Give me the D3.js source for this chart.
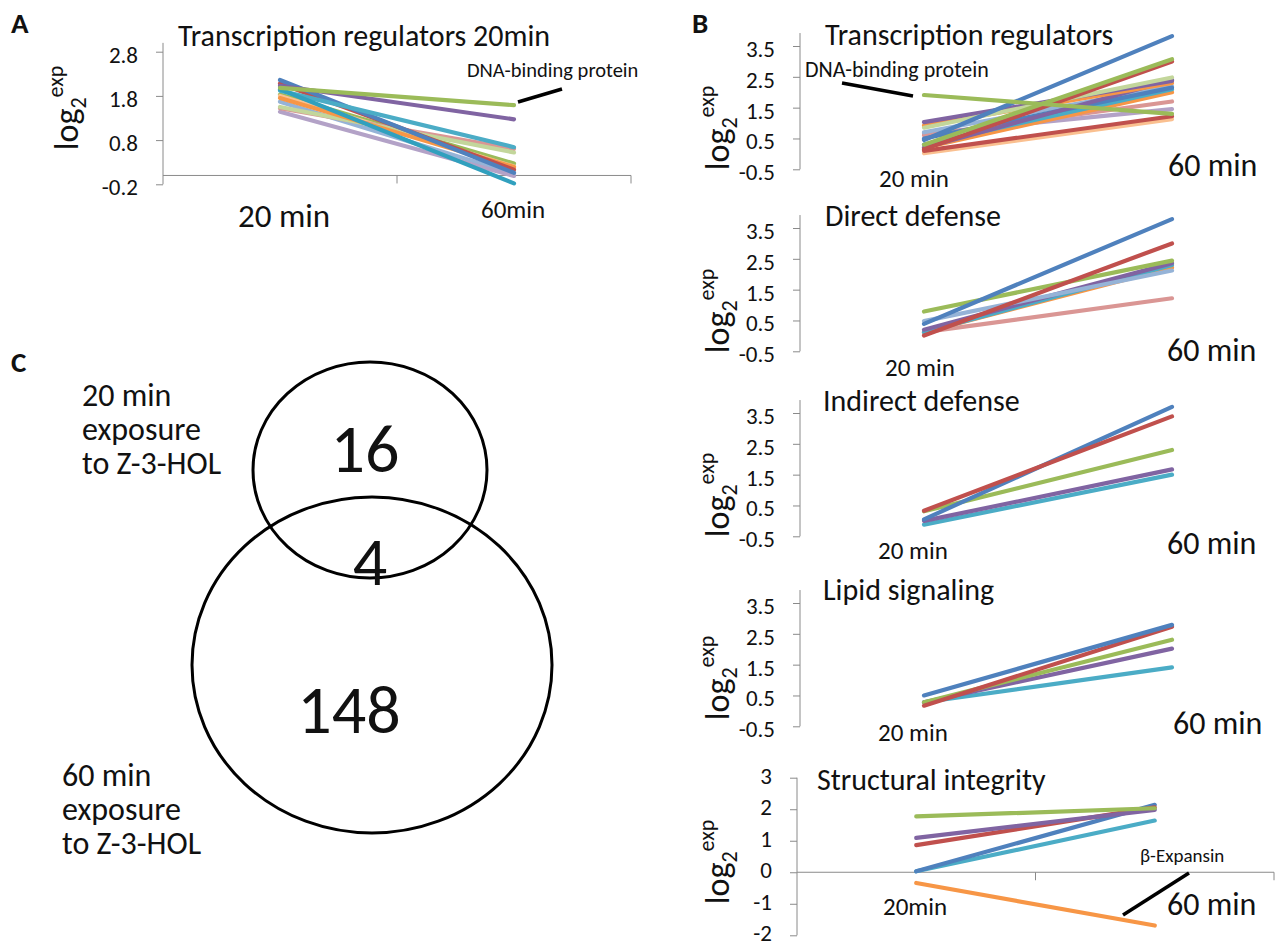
<!DOCTYPE html>
<html>
<head>
<meta charset="utf-8">
<script src="https://cdn.jsdelivr.net/npm/d3@7"></script>
<style>
  html, body { margin: 0; padding: 0; background: #fff; }
  svg { display: block; }
  text { font-family: 'Carlito', 'Lato', sans-serif; fill: #111; }
</style>
</head>
<body>
<svg id="fig" width="1280" height="947"></svg>
<script>
// ---- data ---------------------------------------------------------------
const timepoints = ["20 min", "60 min"];

const palette = {
  blue: "#4F81BD", red: "#C0504D", green: "#9BBB59", purple: "#8064A2",
  teal: "#4BACC6", orange: "#F79646", lightBlue: "#95B3D7", pink: "#DA9694",
  lightGreen: "#C3D69B", lightPurple: "#B3A2C7", peach: "#FAC090", darkTeal: "#31A0BE"
};

// A: transcription regulators induced at 20 min
const regA20 = [1.83, 1.80, 1.67, 1.44, 1.52, 1.55, 1.75, 2.08, 2.16, 1.92, 1.95, 2.03, 1.98];
const regA60 = [0.27, 0.20, 0.04, -0.01, 0.60, 0.52, 0.19, 0.13, 0.06, 0.64, -0.18, 1.27, 1.59];
const regAColors = ["green", "peach", "lightBlue", "lightPurple", "pink", "lightGreen", "orange",
                    "red", "blue", "teal", "darkTeal", "purple", "green"];

// B: transcription regulators induced at 60 min
const regB20 = [0.02, 0.10, 0.65, 0.60, 0.20, 0.30, 0.70, 0.50, 0.20, 0.92, 1.03, 0.85, 0.15, 0.30, 0.45, 1.91];
const regB60 = [1.13, 1.22, 1.45, 1.70, 2.00, 2.10, 2.20, 2.15, 2.40, 2.30, 2.37, 2.48, 3.00, 3.07, 3.82, 1.30];
const regBColors = ["peach", "red", "lightPurple", "pink", "orange", "teal", "lightBlue", "blue",
                    "purple", "orange", "purple", "lightGreen", "red", "green", "blue", "green"];

// Direct defense
const direct20 = [0.12, 0.12, 0.12, 0.20, 0.48, 0.79, 0.01, 0.39];
const direct60 = [1.22, 2.22, 2.30, 2.36, 2.12, 2.44, 3.00, 3.79];
const directColors = ["pink", "orange", "teal", "purple", "lightBlue", "green", "red", "blue"];

// Indirect defense
const indirect20 = [-0.12, 0.00, 0.31, 0.05, 0.33];
const indirect60 = [1.50, 1.67, 2.30, 3.70, 3.39];
const indirectColors = ["teal", "purple", "green", "blue", "red"];

// Lipid signaling
const lipid20 = [0.28, 0.28, 0.28, 0.17, 0.50];
const lipid60 = [1.41, 2.02, 2.31, 2.73, 2.79];
const lipidColors = ["teal", "purple", "green", "red", "blue"];

// Structural integrity
const struct20 = [0.03, 0.03, 0.86, 1.09, 1.77, -0.34];
const struct60 = [1.64, 2.14, 2.06, 1.98, 2.03, -1.69];
const structColors = ["teal", "blue", "red", "purple", "green", "orange"];

const ticksA = [2.8, 1.8, 0.8, -0.2];
const ticksB = [3.5, 2.5, 1.5, 0.5, -0.5];
const ticksStruct = [3, 2, 1, 0, -1, -2];

// C: Venn counts
const vennCounts = { only20: 16, both: 4, only60: 148 };
const vennSetLabels = [["20 min", "exposure", "to Z-3-HOL"], ["60 min", "exposure", "to Z-3-HOL"]];

// ---- drawing ------------------------------------------------------------
const svg = d3.select("#fig");
const AXIS = "#8a8a8a";

function panelLetter(s, x, y) {
  svg.append("text").attr("x", x).attr("y", y).attr("font-size", 29)
    .attr("font-weight", "bold").text(s);
}

function yLabel(cx, cy) {
  const t = svg.append("text")
    .attr("transform", `translate(${cx},${cy}) rotate(-90)`)
    .attr("text-anchor", "middle").attr("font-size", 34);
  t.append("tspan").text("log");
  t.append("tspan").attr("font-size", 22).attr("dy", 8).text("2");
  t.append("tspan").attr("font-size", 22).attr("dy", -23).text("exp");
}

function linePanel(c) {
  const g = svg.append("g");
  const y = d3.scaleLinear().domain([c.ticks[c.ticks.length - 1], c.ticks[0]])
    .range([c.yBottom, c.yTop]);
  const x = d3.scalePoint().domain(timepoints).range([c.x0, c.x1]).padding(0.5);

  // value axis
  const ax = g.append("g").attr("transform", `translate(${c.x0},0)`)
    .call(d3.axisLeft(y).tickValues(c.ticks).tickSize(7).tickPadding(18)
      .tickFormat(c.fmt));
  ax.select(".domain").remove();
  ax.selectAll(".tick line").attr("stroke", AXIS);
  ax.selectAll(".tick text").attr("font-size", 23).attr("fill", "#111")
    .attr("font-family", "'Carlito','Lato',sans-serif").attr("dy", c.labelDy || "0.45em");
  g.append("line").attr("x1", c.x0).attr("x2", c.x0)
    .attr("y1", y(c.axisTop)).attr("y2", c.yBottom).attr("stroke", AXIS);

  // category axis at zero
  if (c.catAxis) {
    const y0 = y(0);
    g.append("line").attr("x1", c.x0).attr("x2", c.x1).attr("y1", y0).attr("y2", y0).attr("stroke", AXIS);
    [c.x0 + (c.x1 - c.x0) / 2, c.x1].forEach(tx =>
      g.append("line").attr("x1", tx).attr("x2", tx).attr("y1", y0).attr("y2", y0 + 8).attr("stroke", AXIS));
  }

  const line = d3.line().x(d => x(d.t)).y(d => y(d.v));
  const series = c.start.map((s, i) => ({
    color: palette[c.colors[i]],
    pts: [{ t: timepoints[0], v: s }, { t: timepoints[1], v: c.end[i] }]
  }));
  g.selectAll("path.series").data(series).join("path")
    .attr("class", "series")
    .attr("d", d => line(d.pts))
    .attr("fill", "none").attr("stroke", d => d.color)
    .attr("stroke-width", 4.2).attr("stroke-linecap", "round");

  // texts
  g.append("text").attr("x", c.titleX).attr("y", c.titleY).attr("font-size", 30).text(c.title);
  g.append("text").attr("x", c.l20[0]).attr("y", c.l20[1]).attr("font-size", c.l20[2]).text(c.l20[3]);
  g.append("text").attr("x", c.l60[0]).attr("y", c.l60[1]).attr("font-size", c.l60[2]).text(c.l60[3]);
  yLabel(c.ylab[0], c.ylab[1]);
  return { x, y, g };
}

const fmt1 = d => d.toFixed(1);
const fmt0 = d => d.toFixed(0);

// Panel A
panelLetter("A", 11, 33);
const pA = linePanel({
  start: regA20, end: regA60, colors: regAColors, ticks: ticksA, fmt: fmt1,
  yTop: 51.7, yBottom: 184.3, axisTop: 3.0, x0: 163, x1: 631, catAxis: true,
  title: "Transcription regulators 20min", titleX: 178, titleY: 46,
  l20: [238, 227, 33, "20 min"], l60: [481, 218, 25, "60min"], ylab: [78, 108]
});
pA.g.append("text").attr("x", 467).attr("y", 77).attr("font-size", 20.5).text("DNA-binding protein");
pA.g.append("line").attr("x1", 518).attr("y1", 102).attr("x2", 562).attr("y2", 89)
  .attr("stroke", "#000").attr("stroke-width", 3.5);

// Panel B
panelLetter("B", 692, 33);
const bx0 = 800, bx1 = 1296;
const pB1 = linePanel({
  start: regB20, end: regB60, colors: regBColors, ticks: ticksB, fmt: fmt1,
  yTop: 46, yBottom: 169.3, axisTop: 3.92, x0: bx0, x1: bx1,
  title: "Transcription regulators", titleX: 825, titleY: 45,
  l20: [879, 187, 25, "20 min"], l60: [1168, 176, 32, "60 min"], ylab: [729, 128]
});
pB1.g.append("text").attr("x", 805).attr("y", 77).attr("font-size", 22).text("DNA-binding protein");
pB1.g.append("line").attr("x1", 842).attr("y1", 83).attr("x2", 913).attr("y2", 96)
  .attr("stroke", "#000").attr("stroke-width", 3.5);

linePanel({
  start: direct20, end: direct60, colors: directColors, ticks: ticksB, fmt: fmt1,
  yTop: 228, yBottom: 351.3, axisTop: 3.92, x0: bx0, x1: bx1,
  title: "Direct defense", titleX: 825, titleY: 226,
  l20: [885, 376, 25, "20 min"], l60: [1167, 361, 32, "60 min"], ylab: [729, 311]
});

linePanel({
  start: indirect20, end: indirect60, colors: indirectColors, ticks: ticksB, fmt: fmt1,
  yTop: 413, yBottom: 536.3, axisTop: 3.92, x0: bx0, x1: bx1,
  title: "Indirect defense", titleX: 823, titleY: 411,
  l20: [878, 559, 25, "20 min"], l60: [1167, 554, 32, "60 min"], ylab: [729, 495]
});

linePanel({
  start: lipid20, end: lipid60, colors: lipidColors, ticks: ticksB, fmt: fmt1,
  yTop: 603, yBottom: 726.3, axisTop: 3.92, x0: bx0, x1: bx1,
  title: "Lipid signaling", titleX: 823, titleY: 600,
  l20: [878, 741, 25, "20 min"], l60: [1173, 734, 32, "60 min"], ylab: [729, 678]
});

const pB5 = linePanel({
  start: struct20, end: struct60, colors: structColors, ticks: ticksStruct, fmt: fmt0,
  yTop: 777.7, yBottom: 935.3, axisTop: 3, x0: 797, x1: 1274, catAxis: true, labelDy: "0.24em",
  title: "Structural integrity", titleX: 817, titleY: 790,
  l20: [883, 915, 25, "20min"], l60: [1167, 915, 32, "60 min"], ylab: [729, 862]
});
pB5.g.append("text").attr("x", 1140).attr("y", 862).attr("font-size", 19).text("β-Expansin");
pB5.g.append("line").attr("x1", 1123).attr("y1", 915).attr("x2", 1189).attr("y2", 873)
  .attr("stroke", "#000").attr("stroke-width", 3.5);

// Panel C: Venn diagram
panelLetter("C", 11, 372);
const venn = svg.append("g");
const circles = [
  { cx: 370, cy: 470, rx: 117, ry: 108 },
  { cx: 372, cy: 665, rx: 180, ry: 168 }
];
venn.selectAll("ellipse").data(circles).join("ellipse")
  .attr("cx", d => d.cx).attr("cy", d => d.cy).attr("rx", d => d.rx).attr("ry", d => d.ry)
  .attr("fill", "none").attr("stroke", "#000").attr("stroke-width", 3);

const countLabels = [
  { v: vennCounts.only20, x: 365, y: 472 },
  { v: vennCounts.both, x: 370, y: 585 },
  { v: vennCounts.only60, x: 349, y: 733 }
];
venn.selectAll("text.count").data(countLabels).join("text")
  .attr("class", "count").attr("x", d => d.x).attr("y", d => d.y)
  .attr("text-anchor", "middle").attr("font-size", 68).text(d => d.v);

// set captions, one multi-line text block per circle
const setPos = [{ x: 82, y: 406 }, { x: 62, y: 786 }];
vennSetLabels.forEach((lines, i) => {
  const t = venn.append("text").attr("x", setPos[i].x).attr("y", setPos[i].y).attr("font-size", 32);
  lines.forEach((s, j) => {
    t.append("tspan").attr("x", setPos[i].x).attr("dy", j === 0 ? 0 : 34).text(s);
  });
});
</script>
</body>
</html>
